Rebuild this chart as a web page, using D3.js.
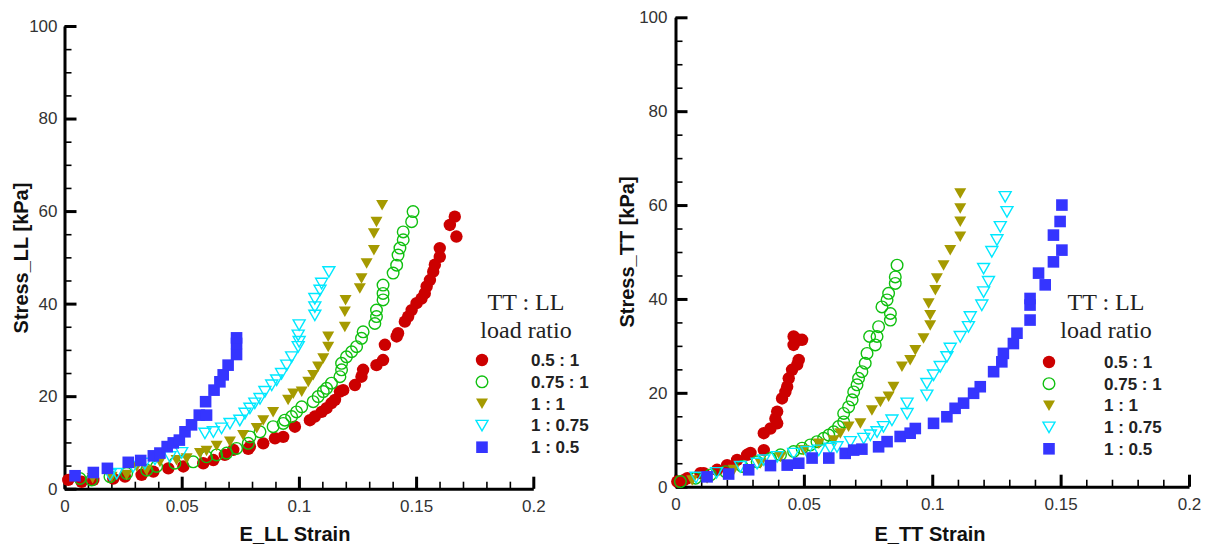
<!DOCTYPE html>
<html><head><meta charset="utf-8">
<script src="https://cdn.jsdelivr.net/npm/d3@7"></script>
<style>body{margin:0;background:#fff}svg{display:block}</style>
</head><body><svg id="c" width="1210" height="547"></svg>
<script>
// ---------- data ----------
const xTickValues = [0, 0.05, 0.1, 0.15, 0.2];
const xTickLabels = ["0", "0.05", "0.1", "0.15", "0.2"];
const yTickValues = [0, 20, 40, 60, 80, 100];
const yTickLabels = ["0", "20", "40", "60", "80", "100"];
const seriesNames = ["0.5 : 1", "0.75 : 1", "1 : 1", "1 : 0.75", "1 : 0.5"];
const legendTitle = ["TT : LL", "load ratio"];

// Left panel: Stress_LL vs E_LL
const llRed = [[0.0016,1.9],[0.0073,1.5],[0.0123,1.9],[0.0208,2.2],[0.0258,2.6],[0.0329,3.0],[0.0379,3.7],[0.0443,4.4],[0.0507,4.8],[0.0592,5.5],[0.0635,6.2],[0.0684,7.3],[0.072,8.4],[0.0784,8.6],[0.0791,9.1],[0.0848,9.8],[0.0898,10.9],[0.0933,11.2],[0.0983,13.4],[0.1047,14.8],[0.1068,15.6],[0.1097,16.6],[0.1118,17.4],[0.1139,18.5],[0.1154,19.2],[0.1175,21.0],[0.1189,21.3],[0.1239,22.4],[0.1267,24.2],[0.1274,25.7],[0.1331,26.7],[0.1359,27.8],[0.1367,31.1],[0.1417,32.9],[0.1423,33.6],[0.1452,36.1],[0.1466,37.2],[0.1481,38.6],[0.1502,40.1],[0.1523,41.1],[0.1537,42.2],[0.1545,43.7],[0.1559,45.1],[0.1573,46.9],[0.158,48.4],[0.1601,50.1],[0.1601,52.0],[0.1672,54.5],[0.1644,57.0],[0.1665,58.8]];
const llGreen = [[0.0066,2.2],[0.0116,1.9],[0.0194,2.6],[0.0265,3.3],[0.0351,4.0],[0.0393,4.8],[0.0471,5.5],[0.0549,5.8],[0.0606,6.9],[0.0649,7.3],[0.0692,7.7],[0.0734,8.7],[0.0784,9.8],[0.0791,11.2],[0.0834,12.3],[0.089,13.4],[0.0933,14.1],[0.094,14.8],[0.0969,15.6],[0.099,16.6],[0.1012,17.7],[0.1061,18.8],[0.1082,19.9],[0.1104,21.0],[0.1118,21.7],[0.1139,22.8],[0.1175,24.2],[0.1182,25.7],[0.1182,27.1],[0.1203,28.5],[0.1225,29.6],[0.1246,30.7],[0.1267,32.5],[0.1274,33.9],[0.1324,35.7],[0.1331,37.2],[0.1331,38.6],[0.1359,40.8],[0.1359,42.2],[0.1359,44.0],[0.1402,46.6],[0.1417,48.3],[0.1423,50.5],[0.1431,52.0],[0.1445,53.8],[0.1445,55.5],[0.1481,57.7],[0.1487,59.9]];
const llOlive = [[0.012,2.3],[0.0201,2.6],[0.0265,3.0],[0.0308,4.8],[0.035,4.0],[0.0407,5.8],[0.0478,6.2],[0.0521,6.6],[0.0578,7.7],[0.0606,8.2],[0.0649,9.3],[0.0706,10.2],[0.0762,11.6],[0.082,13.1],[0.0848,14.8],[0.089,16.6],[0.0954,19.2],[0.0976,20.6],[0.1012,21.0],[0.104,23.1],[0.1061,24.6],[0.1082,26.4],[0.1104,28.2],[0.1125,30.7],[0.1125,32.9],[0.1196,35.0],[0.1196,38.3],[0.1199,40.8],[0.126,43.3],[0.1267,45.5],[0.1289,48.7],[0.132,51.6],[0.132,55.2],[0.1331,57.7],[0.1355,61.3]];
const llCyan = [[0.0194,3.0],[0.0223,3.3],[0.0293,4.8],[0.0343,5.5],[0.0386,6.4],[0.045,6.9],[0.05,7.8],[0.0599,12.0],[0.0635,12.3],[0.067,13.1],[0.0706,14.1],[0.0748,14.8],[0.077,16.3],[0.0791,17.4],[0.0812,18.5],[0.0834,19.5],[0.0855,21.0],[0.0884,22.4],[0.0905,23.5],[0.0926,24.9],[0.0948,26.7],[0.0969,28.5],[0.0997,30.7],[0.1001,31.8],[0.0997,33.2],[0.1001,35.4],[0.1068,37.5],[0.1068,39.3],[0.1068,41.1],[0.109,42.9],[0.1097,44.4],[0.1128,46.9]];
const llBlue = [[0.0045,2.8],[0.0123,3.5],[0.0183,4.4],[0.0272,5.7],[0.0325,6.1],[0.0379,7.1],[0.0407,7.7],[0.0438,9.1],[0.0464,9.9],[0.049,10.5],[0.0514,12.3],[0.0542,13.8],[0.0575,15.9],[0.0606,15.9],[0.0602,18.8],[0.0638,21.3],[0.0663,23.1],[0.0677,24.6],[0.0698,26.7],[0.0734,29.0],[0.0734,31.4],[0.0734,32.6]];

// Right panel: Stress_TT vs E_TT
const ttRed = [[0.0007,1.1],[0.0032,1.4],[0.0046,1.8],[0.0097,2.9],[0.011,2.9],[0.0162,3.6],[0.0201,4.6],[0.024,5.7],[0.0279,6.8],[0.0292,7.2],[0.0344,7.8],[0.0344,11.4],[0.037,12.4],[0.0389,14.5],[0.0396,13.5],[0.0396,16.0],[0.0415,18.8],[0.0428,20.2],[0.0435,21.3],[0.0441,23.1],[0.0454,24.9],[0.048,27.0],[0.0474,26.0],[0.046,30.2],[0.048,31.3],[0.0493,31.3],[0.046,32.0]];
const ttGreen = [[0.0019,1.1],[0.0078,1.8],[0.0136,2.5],[0.0195,3.2],[0.026,4.3],[0.0318,5.3],[0.037,6.0],[0.0409,6.8],[0.046,7.5],[0.0493,8.2],[0.0525,8.9],[0.0551,9.6],[0.0577,10.3],[0.0597,11.0],[0.0616,11.7],[0.0635,12.8],[0.0655,13.8],[0.0655,15.6],[0.0674,17.0],[0.0688,18.5],[0.0694,20.2],[0.0707,21.7],[0.0713,23.1],[0.0726,24.5],[0.0739,26.3],[0.0746,28.4],[0.0756,32.0],[0.0778,30.2],[0.0785,32.0],[0.0791,34.1],[0.0804,38.3],[0.0824,39.8],[0.0837,35.5],[0.0837,36.9],[0.083,41.2],[0.0856,43.3],[0.0856,44.7],[0.0863,47.2]];
const ttOlive = [[0.0065,1.4],[0.0123,1.8],[0.0227,3.6],[0.0331,5.0],[0.0409,6.4],[0.0499,7.8],[0.0558,9.2],[0.0616,9.9],[0.0642,11.4],[0.0674,12.8],[0.072,13.5],[0.0765,16.3],[0.0798,18.1],[0.083,19.2],[0.0849,21.3],[0.0882,25.6],[0.0914,27.0],[0.0934,29.1],[0.0966,31.6],[0.0992,34.4],[0.0992,36.6],[0.0986,39.1],[0.1012,41.9],[0.1018,44.4],[0.1044,47.2],[0.107,50.4],[0.1109,53.3],[0.1109,56.5],[0.1109,59.3],[0.1109,62.5]];
const ttCyan = [[0.008,2.0],[0.016,3.0],[0.0253,4.3],[0.0318,5.0],[0.0344,5.7],[0.0396,6.4],[0.046,7.1],[0.0512,7.5],[0.0558,7.8],[0.0603,8.2],[0.0629,8.5],[0.0681,9.6],[0.0733,10.3],[0.0759,11.0],[0.0785,11.7],[0.081,12.8],[0.0843,14.2],[0.0902,15.6],[0.0902,17.8],[0.0979,19.5],[0.0979,22.0],[0.1005,23.8],[0.1031,25.6],[0.1057,27.7],[0.107,29.5],[0.1109,32.0],[0.1141,34.1],[0.1148,36.2],[0.1193,38.7],[0.12,41.5],[0.1219,43.7],[0.12,46.5],[0.1232,50.1],[0.1252,52.6],[0.1265,55.4],[0.1291,58.6],[0.1284,61.8]];
const ttBlue = [[0.0123,2.1],[0.0207,2.7],[0.0285,3.6],[0.037,4.5],[0.0435,4.6],[0.048,5.0],[0.0532,6.1],[0.0597,6.1],[0.0661,7.1],[0.0694,7.8],[0.0726,8.0],[0.0791,8.5],[0.0824,9.6],[0.0875,10.7],[0.0914,11.4],[0.0934,12.4],[0.1005,13.5],[0.1057,14.9],[0.1089,16.7],[0.1122,17.8],[0.1161,19.9],[0.1187,21.3],[0.1239,24.5],[0.1271,26.6],[0.1277,28.4],[0.1316,30.5],[0.133,32.7],[0.1381,35.5],[0.1381,38.7],[0.1381,40.1],[0.144,43.0],[0.1414,45.5],[0.1472,47.9],[0.1505,50.4],[0.1472,53.6],[0.1498,56.5],[0.1505,60.0]];

// ---------- styles ----------
const markerStyles = [
  {shape:"circle", fill:"#cc0000", stroke:"none"},
  {shape:"circle", fill:"none", stroke:"#10c010"},
  {shape:"tri", fill:"#a59a00", stroke:"none"},
  {shape:"tri", fill:"none", stroke:"#00e8ff"},
  {shape:"square", fill:"#3535ff", stroke:"none"}
];

const svg = d3.select("#c");

function markerPath(shape, filled){
  if (shape === "circle") { const r = filled ? 6.2 : 5.8; return `M${r},0A${r},${r} 0 1,1 ${-r},0A${r},${r} 0 1,1 ${r},0Z`; }
  if (shape === "tri") return "M-6,-5L6,-5L0,5.5Z";
  return "M-5.8,-5.8H5.8V5.8H-5.8Z";
}

function drawMarker(g, st, x, y){
  g.append("path").attr("d", markerPath(st.shape, st.stroke === "none"))
    .attr("transform", `translate(${x},${y})`)
    .attr("fill", st.fill).attr("stroke", st.stroke)
    .attr("stroke-width", st.stroke === "none" ? 0 : 1.4);
}

function panel(cfg){
  const x = d3.scaleLinear().domain([0, 0.2]).range(cfg.xr);
  const y = d3.scaleLinear().domain([0, 100]).range(cfg.yr);
  const g = svg.append("g");

  // minor ticks
  g.append("g").attr("transform", `translate(0,${cfg.yr[0]})`)
    .call(d3.axisBottom(x).tickValues(d3.range(0, 0.2001, 0.01)).tickSize(-7).tickSizeOuter(0).tickFormat(""))
    .call(a => { a.select(".domain").remove(); a.selectAll("line").attr("stroke","#000").attr("stroke-width",1.6); });
  g.append("g").attr("transform", `translate(${cfg.xr[0]},0)`)
    .call(d3.axisLeft(y).tickValues(d3.range(0, 100.01, 5)).tickSize(-7).tickSizeOuter(0).tickFormat(""))
    .call(a => { a.select(".domain").remove(); a.selectAll("line").attr("stroke","#000").attr("stroke-width",1.6); });

  // major axes
  g.append("g").attr("transform", `translate(0,${cfg.yr[0]})`)
    .call(d3.axisBottom(x).tickValues(xTickValues).tickSize(-12).tickSizeOuter(0).tickPadding(11)
      .tickFormat((d,i) => xTickLabels[i]))
    .call(a => {
      a.select(".domain").attr("stroke","#000").attr("stroke-width",3);
      a.selectAll("line").attr("stroke","#000").attr("stroke-width",3);
      a.selectAll("text").attr("font-family","Liberation Sans, Arial, sans-serif").attr("font-size",17).attr("fill","#333");
    });
  g.append("g").attr("transform", `translate(${cfg.xr[0]},0)`)
    .call(d3.axisLeft(y).tickValues(yTickValues).tickSize(-12).tickSizeOuter(0).tickPadding(cfg.yPad)
      .tickFormat((d,i) => yTickLabels[i]))
    .call(a => {
      a.select(".domain").attr("stroke","#000").attr("stroke-width",3);
      a.selectAll("line").attr("stroke","#000").attr("stroke-width",3);
      a.selectAll("text").attr("font-family","Liberation Sans, Arial, sans-serif").attr("font-size",17).attr("fill","#333");
    });

  // axis titles
  g.append("text").attr("x", cfg.xTitle[0]).attr("y", cfg.xTitle[1]).attr("text-anchor","middle")
    .attr("font-family","Liberation Sans, Arial, sans-serif").attr("font-weight","bold").attr("font-size",20)
    .attr("fill","#111").text(cfg.xLabel);
  g.append("text").attr("transform", `translate(${cfg.yTitle[0]},${cfg.yTitle[1]}) rotate(-90)`).attr("text-anchor","middle")
    .attr("font-family","Liberation Sans, Arial, sans-serif").attr("font-weight","bold").attr("font-size",20)
    .attr("fill","#111").text(cfg.yLabel);

  // data
  cfg.series.forEach((s, i) => {
    const mg = g.append("g");
    s.forEach(d => drawMarker(mg, markerStyles[i], x(d[0]), y(d[1])));
  });

  // legend
  const L = cfg.legend;
  g.append("text").attr("x", L.cx).attr("y", L.t1).attr("text-anchor","middle")
    .attr("font-family","Liberation Serif, Times New Roman, serif").attr("font-size",24).attr("fill","#222").text(legendTitle[0]);
  g.append("text").attr("x", L.cx).attr("y", L.t2).attr("text-anchor","middle")
    .attr("font-family","Liberation Serif, Times New Roman, serif").attr("font-size",24).attr("fill","#222").text(legendTitle[1]);
  seriesNames.forEach((n, i) => {
    const yy = L.y0 + i * L.dy;
    drawMarker(g, markerStyles[i], L.mx, yy);
    g.append("text").attr("x", L.lx).attr("y", yy + 6).attr("font-family","Liberation Sans, Arial, sans-serif")
      .attr("font-weight","bold").attr("font-size",17).attr("fill","#222").text(n);
  });
}

panel({
  xr:[64.5, 533.3], yr:[488.7, 26], yPad:7,
  xLabel:"E_LL Strain", yLabel:"Stress_LL [kPa]",
  xTitle:[295, 541], yTitle:[28, 258],
  series:[llRed, llGreen, llOlive, llCyan, llBlue],
  legend:{cx:526, t1:310, t2:338, mx:482, lx:531, y0:360, dy:21.8}
});
panel({
  xr:[675.5, 1189], yr:[486.7, 17.3], yPad:8,
  xLabel:"E_TT Strain", yLabel:"Stress_TT [kPa]",
  xTitle:[930, 541], yTitle:[634, 252],
  series:[ttRed, ttGreen, ttOlive, ttCyan, ttBlue],
  legend:{cx:1106, t1:310, t2:338, mx:1049, lx:1104, y0:362, dy:21.7}
});
</script></body></html>
